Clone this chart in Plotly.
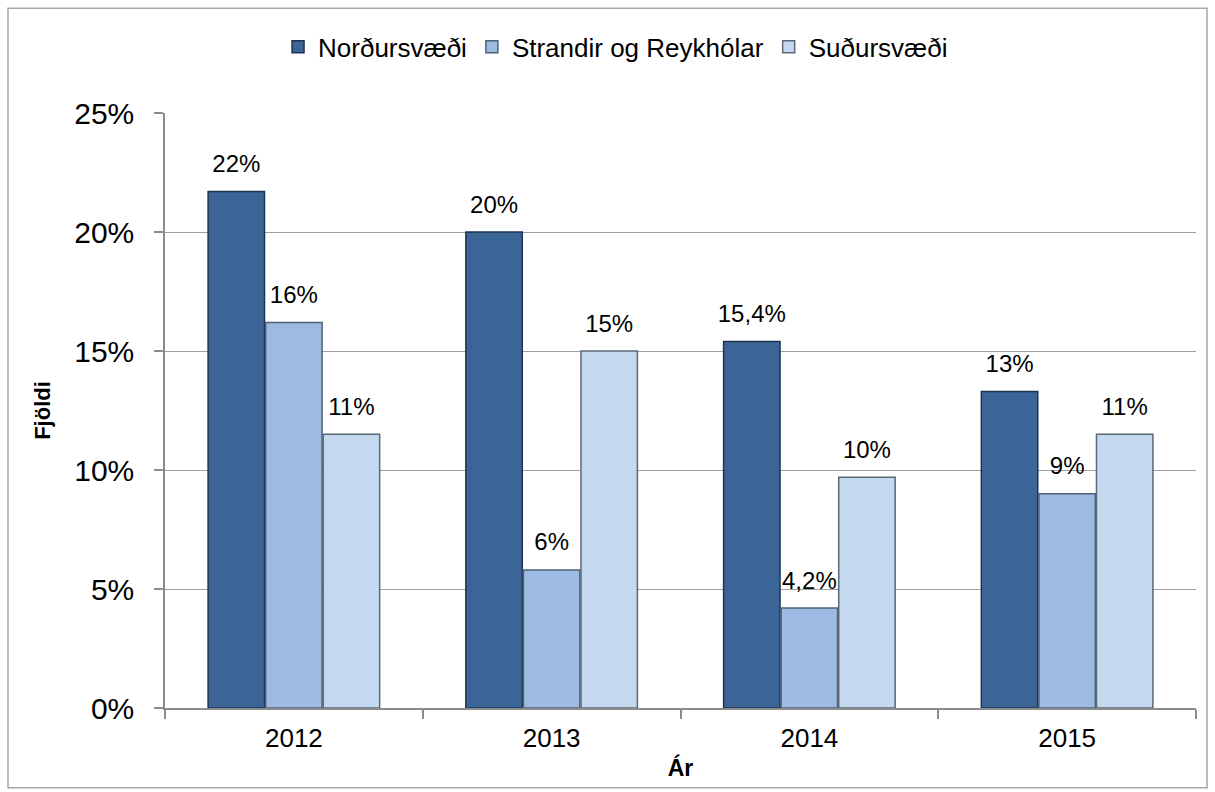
import plotly.graph_objects as go

years = ["2012", "2013", "2014", "2015"]
nordur = [21.7, 20.0, 15.4, 13.3]
strandir = [16.2, 5.8, 4.2, 9.0]
sudur = [11.5, 15.0, 9.7, 11.5]
nordur_labels = ["22%", "20%", "15,4%", "13%"]
strandir_labels = ["16%", "6%", "4,2%", "9%"]
sudur_labels = ["11%", "15%", "10%", "11%"]

series = [
    ("Norðursvæði", nordur, nordur_labels, "#3C6597", "#1E3350"),
    ("Strandir og Reykhólar", strandir, strandir_labels, "#9CBAE2", "#4F6176"),
    ("Suðursvæði", sudur, sudur_labels, "#C4D8EF", "#5C6875"),
]

FONT = "Liberation Sans, Arial, sans-serif"

fig = go.Figure()
for name, vals, labels, color, edge in series:
    fig.add_trace(go.Bar(
        name=name, x=years, y=vals,
        marker=dict(color=color, line=dict(color=edge, width=1.5)),
        hoverinfo="skip",
    ))
# value labels, grouped like the bars, lifted above bar tops
for name, vals, labels, color, edge in series:
    fig.add_trace(go.Scatter(
        x=years, y=vals, mode="markers+text", text=labels,
        textposition="top center",
        textfont=dict(size=24, color="#000000", family=FONT),
        marker=dict(size=20, color="rgba(0,0,0,0)"),
        showlegend=False, hoverinfo="skip", cliponaxis=False,
    ))

fig.update_layout(
    width=1215, height=792,
    paper_bgcolor="white", plot_bgcolor="white",
    barmode="group", bargap=0.33, bargroupgap=0.02,
    scattermode="group", scattergap=0.33,
    margin=dict(l=165, r=19, t=113, b=84, autoexpand=False),
    font=dict(family=FONT, color="#000000"),
    legend=dict(orientation="h", x=0.437, xanchor="center", y=1.111, yanchor="middle",
                font=dict(size=26, family=FONT), traceorder="normal",
                bgcolor="rgba(0,0,0,0)"),
    showlegend=True,
)
fig.update_xaxes(
    showline=True, linecolor="#8C8C8C", linewidth=1.5,
    ticks="outside", tickson="boundaries", ticklen=9, tickcolor="#8C8C8C", tickwidth=1.5,
    tickfont=dict(size=26, family=FONT), ticklabelstandoff=6,
    title=dict(text="<b>Ár</b>", font=dict(size=23, family=FONT), standoff=8),
    showgrid=False,
)
fig.update_yaxes(
    range=[0, 25], dtick=5, ticksuffix="%",
    showline=True, linecolor="#8C8C8C", linewidth=1.5,
    ticks="outside", ticklen=9, tickcolor="#8C8C8C", tickwidth=1.5,
    tickfont=dict(size=30, family=FONT), ticklabelstandoff=14,
    showgrid=True, gridcolor="#A0A0A0", gridwidth=1.2,
    zeroline=False,
    title=dict(text="<b>Fjöldi</b>", font=dict(size=22, family=FONT), standoff=18),
)
# outer chart frame
fig.add_shape(type="rect", xref="paper", yref="paper",
              x0=-0.1523, x1=1.0107, y0=-0.134, y1=1.176,
              line=dict(color="#A6A6A6", width=1.5), fillcolor="rgba(0,0,0,0)", layer="below")

fig.write_html("out.html", config={"displayModeBar": False},
               post_script="document.body.style.margin='0';")
